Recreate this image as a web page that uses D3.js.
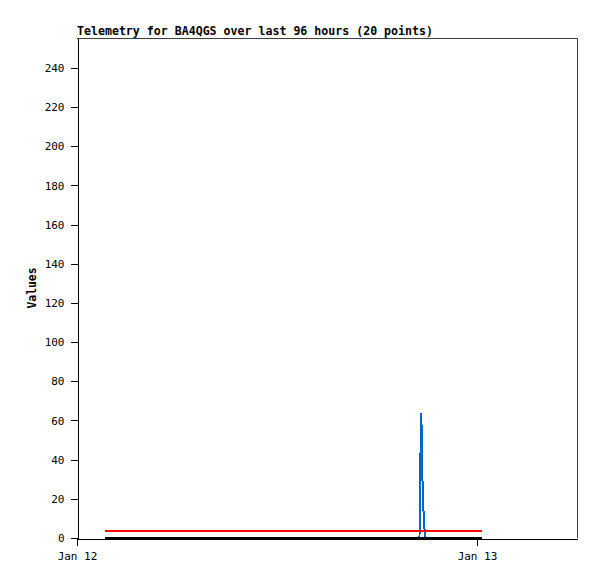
<!DOCTYPE html>
<html>
<head>
<meta charset="utf-8">
<script src="https://cdn.jsdelivr.net/npm/d3@7"></script>
<style>
  body { margin: 0; background: #fff; }
  text { font-family: "DejaVu Sans Mono", "Liberation Mono", monospace; }
</style>
</head>
<body>
<svg id="chart" width="597" height="579"></svg>
<script>
// hours after Jan 12 00:00 for each sample
var sampleHours = [1.68, 3.9, 6.2, 8.5, 10.8, 13.1, 15.4, 17.7, 20.0,
  20.55, 20.56, 20.62, 20.64, 20.69, 20.72, 20.79, 20.88,
  21.4, 22.9, 24.3];
var blueValues = [0, 0, 0, 0, 0, 0, 0, 0, 0,
  0, 16, 48, 64, 54, 32, 14, 0,
  0, 0, 0];
var redValues = [3.5, 3.5, 3.5, 3.5, 3.5, 3.5, 3.5, 3.5, 3.5,
  3.5, 3.5, 3.5, 3.5, 3.5, 3.5, 3.5, 3.5,
  3.5, 3.5, 3.5];
var blackValues = [0, 0, 0, 0, 0, 0, 0, 0, 0,
  0, 0, 0, 0, 0, 0, 0, 0,
  0, 0, 0];
var yTicks = [0, 20, 40, 60, 80, 100, 120, 140, 160, 180, 200, 220, 240];
var xTicks = [new Date(Date.UTC(2024, 0, 12)), new Date(Date.UTC(2024, 0, 13))];

var start = Date.UTC(2024, 0, 12);
var times = sampleHours.map(function(h) { return new Date(start + h * 3600e3); });

var margin = { left: 77, top: 38, right: 20, bottom: 41 };
var width = 597 - margin.left - margin.right;
var height = 579 - margin.top - margin.bottom;

var svg = d3.select('#chart');

svg.append('text')
  .attr('x', margin.left)
  .attr('y', 35)
  .attr('font-size', '11.6px')
  .attr('font-weight', 'bold')
  .text('Telemetry for BA4QGS over last 96 hours (20 points)');

var g = svg.append('g')
  .attr('transform', 'translate(' + margin.left + ',' + margin.top + ')');

var x = d3.scaleUtc()
  .domain([new Date(start), new Date(start + 30 * 3600e3)])
  .range([0, width]);
var y = d3.scaleLinear()
  .domain([0, 255.3])
  .range([height, 0]);

// frame top and right
g.append('path')
  .attr('d', 'M0,0.5H' + (width + 0.5) + 'V' + height)
  .attr('fill', 'none')
  .attr('stroke', '#404040')
  .attr('stroke-width', 1);

var yAxis = g.append('g')
  .attr('transform', 'translate(0.5,0)')
  .call(d3.axisLeft(y).tickValues(yTicks).tickSize(7).tickSizeOuter(0).tickPadding(6));
var xAxis = g.append('g')
  .attr('transform', 'translate(0,' + (height + 0.5) + ')')
  .call(d3.axisBottom(x).tickValues(xTicks).tickFormat(d3.utcFormat('%b %d'))
    .tickSize(7).tickSizeOuter(0).tickPadding(7));

[yAxis, xAxis].forEach(function(a) {
  a.selectAll('text').attr('font-size', '11px').attr('fill', '#000')
    .style('font-family', '"DejaVu Sans Mono", monospace');
  a.selectAll('line, path').attr('stroke', '#000').attr('shape-rendering', 'crispEdges');
});

svg.append('text')
  .attr('transform', 'translate(36,' + (margin.top + height / 2) + ') rotate(-90)')
  .attr('text-anchor', 'middle')
  .attr('font-size', '11.4px')
  .attr('font-weight', 'bold')
  .text('Values');

var series = [
  { values: blueValues, color: '#0066cc', w: 2 },
  { values: redValues, color: '#ff0000', w: 2.5 },
  { values: blackValues, color: '#000000', w: 2.5 }
];

var line = d3.line()
  .x(function(d) { return x(d[0]); })
  .y(function(d) { return y(d[1]); });

series.forEach(function(s) {
  g.append('path')
    .datum(times.map(function(t, i) { return [t, s.values[i]]; }))
    .attr('fill', 'none')
    .attr('stroke', s.color)
    .attr('stroke-width', s.w)
    .attr('shape-rendering', 'crispEdges')
    .attr('d', line);
});
</script>
</body>
</html>
